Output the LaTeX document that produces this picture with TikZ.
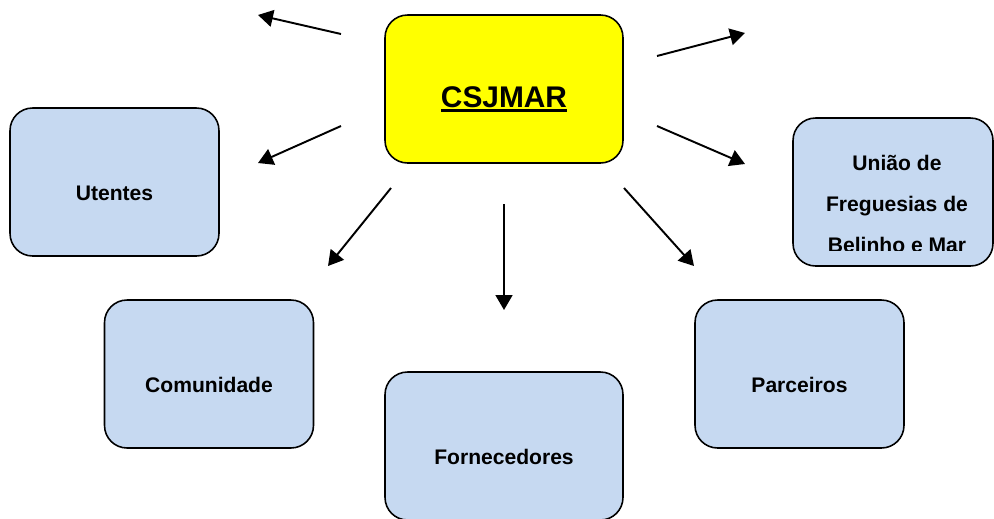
\documentclass[tikz,border=0pt]{standalone}
\usepackage{fontspec}
\setmainfont{Liberation Sans}
\usetikzlibrary{arrows.meta}

\definecolor{partnerblue}{HTML}{C6D9F1}
\definecolor{hubyellow}{RGB}{255,255,0}
% thick underline for the centre title
\newcommand{\hubul}[1]{\setbox0\hbox{#1}\rlap{\rule[-2.9pt]{\wd0}{1.7pt}}\box0}

\begin{document}
\begin{tikzpicture}[x=0.02cm, y=-0.02cm,
  >={Triangle[length=8.5pt,width=9.6pt]},
  partner/.style={draw, line width=0.9pt, rounded corners=0.45cm,
    fill=partnerblue, minimum width=4.18cm, minimum height=2.96cm,
    font=\fontsize{12}{14}\selectfont\bfseries,
    text height=21pt, text depth=0pt},
  hub/.style={partner, fill=hubyellow, minimum width=4.76cm,
    font=\fontsize{17}{20}\selectfont\bfseries, text height=20.7pt},
  link/.style={->, line width=1.1pt}]

  \clip (0,0) rectangle (994,518);

  %=====================================================================
  % boxes
  %=====================================================================
  \node[hub] (csjmar) at (504,89) {\hubul{CSJMAR}};
  \node[partner] (utentes) at (114.5,182) {Utentes};
  \node[partner] (comunidade) at (209,374) {Comunidade};
  \node[partner, minimum width=4.76cm] (fornecedores) at (504,446) {Fornecedores};
  \node[partner] (parceiros) at (799.5,374) {Parceiros};
  \node[partner, minimum width=4cm] (uniao) at (893,192) {};
  % text of the last box runs past its lower margin
  \begin{scope}
    \clip (793,118) rectangle (993,250);
    \node[align=center, font=\fontsize{12}{23.2}\selectfont\bfseries]
      (uniaotext) at (897,204) {União de\\Freguesias de\\Belinho e Mar};
  \end{scope}

  %=====================================================================
  % arrow ends
  %=====================================================================
  \coordinate (nwtail) at (341,34);   \coordinate (nwtip) at (258,15);
  \coordinate (wtail) at (341,126);   \coordinate (wtip) at (258,163);
  \coordinate (swtail) at (391,188);  \coordinate (swtip) at (328,266);
  \coordinate (stail) at (504,204);   \coordinate (stip) at (504,310);
  \coordinate (setail) at (624,188);  \coordinate (setip) at (694,266);
  \coordinate (etail) at (657,126);   \coordinate (etip) at (745,164);
  \coordinate (netail) at (657,56);   \coordinate (netip) at (745,33);

  \draw[link] (nwtail) -- (nwtip);
  \draw[link] (wtail) -- (wtip);
  \draw[link] (swtail) -- (swtip);
  \draw[link] (stail) -- (stip);
  \draw[link] (setail) -- (setip);
  \draw[link] (etail) -- (etip);
  \draw[link] (netail) -- (netip);

\end{tikzpicture}
\end{document}
